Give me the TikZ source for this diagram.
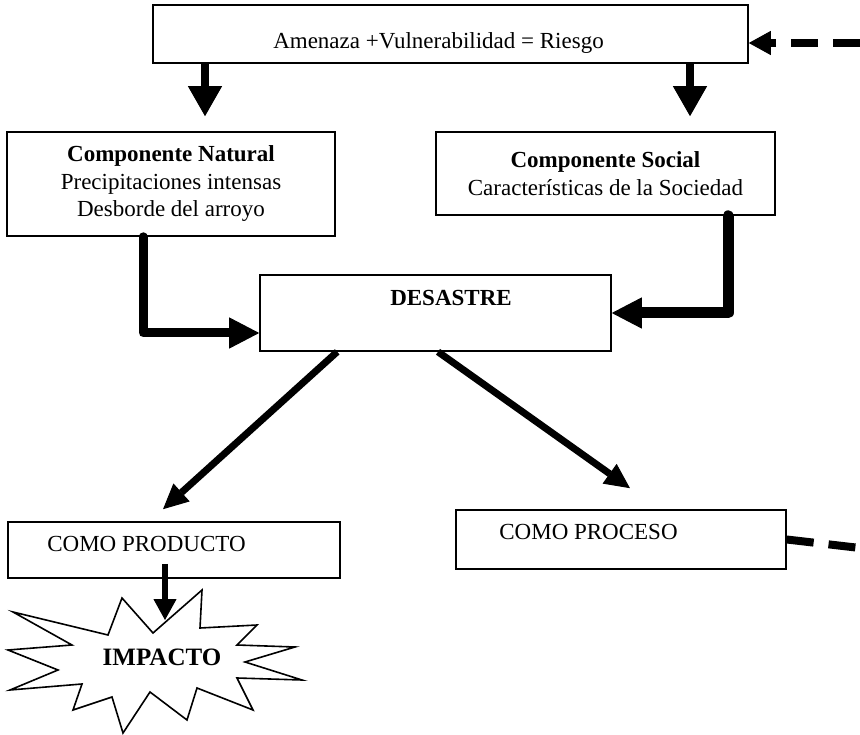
\documentclass[tikz,border=0pt]{standalone}
\usepackage{fontspec}
\setmainfont{Liberation Serif}
\usepackage{tikz}
\usetikzlibrary{arrows.meta}
\usetikzlibrary{calc}
\tikzstyle{box}=[draw=black,fill=white,inner sep=0mm,align=center]
\tikzstyle{fat}=[-{Triangle[length=30pt,width=34pt,line width=1pt]},line width=8pt]
\tikzstyle{elbow}=[-{Triangle[length=30pt,width=31pt,line width=1pt]},line width=9pt,line join=round,line cap=round]
\tikzstyle{slant}=[-{Triangle[length=25pt,width=24pt,line width=1pt]},line width=7pt]
\tikzstyle{drop}=[-{Triangle[length=21pt,width=23pt,line width=1pt]},line width=6pt]
\tikzstyle{feedback}=[dash pattern=on 27pt off 15pt,line width=8pt]
\tikzstyle{burst}=[draw=black,fill=white,line join=miter]
\tikzset{every picture/.style={
    line width=1.6pt
  }
}

\begin{document}
\begin{tikzpicture}[x=1pt,y=-1pt,font=\fontsize{23}{27.5}\selectfont]
      \useasboundingbox (0,0) rectangle (860,735);
      \node[box, minimum width=595pt, minimum height=58pt,
        label={[shift={(-12pt,-9pt)}]center:Amenaza +Vulnerabilidad = Riesgo}] at (450.5,34) (riesgo) {};
      \node[box, minimum width=328pt, minimum height=104pt] at (171,184) (natural)
        {\textbf{Componente Natural}\\Precipitaciones intensas\\Desborde del arroyo};
      \node[box, minimum width=339pt, minimum height=83pt] at (605.5,173.5) (social)
        {\textbf{Componente Social}\\Características de la Sociedad};
      \node[box, minimum width=351pt, minimum height=76pt,
        label={[shift={(15.5pt,15pt)}]center:\textbf{DESASTRE}}] at (435.5,313) (desastre) {};
      \node[box, minimum width=332pt, minimum height=56pt,
        label={[shift={(-27.5pt,6pt)}]center:COMO PRODUCTO}] at (174,550) (producto) {};
      \node[box, minimum width=330pt, minimum height=59pt,
        label={[shift={(-32.5pt,7.5pt)}]center:COMO PROCESO}] at (621,539.5) (proceso) {};
      % star
      \draw[burst] (13,612) -- (108,635) -- (122,598) -- (153,633) -- (202,590)
        -- (200,628) -- (257,625) -- (237,645) -- (295,647) -- (245,662)
        -- (302,680) -- (237,678) -- (253,710) -- (197,688) -- (187,720)
        -- (150,692) -- (123,733) -- (112,697) -- (73,710) -- (82,684)
        -- (10,690) -- (58,670) -- (8,650) -- (72,645) -- cycle;
      \node[font=\fontsize{25}{30}\selectfont\bfseries] at (162,657) (impacto) {IMPACTO};
      \coordinate (loopin) at (860,43);
      \coordinate (loopout) at (860,548);
      \draw[fat, shorten >=15pt] ([xshift=-245.5pt]riesgo.south) -- ([xshift=-245.5pt]riesgo.south |- natural.north);
      \draw[fat, shorten >=15pt] ([xshift=239.5pt]riesgo.south) -- ([xshift=239.5pt]riesgo.south |- social.north);
      \draw[feedback, -{Triangle[length=22pt,width=24pt,line width=1pt]}] (loopin) -- ([yshift=-9pt]riesgo.east);
      \draw[elbow] ([xshift=-28pt]natural.south) |- ([yshift=-20pt]desastre.west);
      \draw[elbow, line width=11pt] ([xshift=122.5pt]social.south) |- (desastre.east);
      \draw[slant] ([xshift=78pt]desastre.south west) -- ([shift={(-11pt,12pt)}]producto.north);
      \draw[slant] ([xshift=2.5pt]desastre.south) -- ([shift={(9pt,21pt)}]proceso.north);
      \draw[drop] ([shift={(-9pt,15pt)}]producto.south) -- ([shift={(3pt,37pt)}]impacto.center);
      \draw[feedback] (proceso.east) -- (loopout);
    \end{tikzpicture}
\end{document}
